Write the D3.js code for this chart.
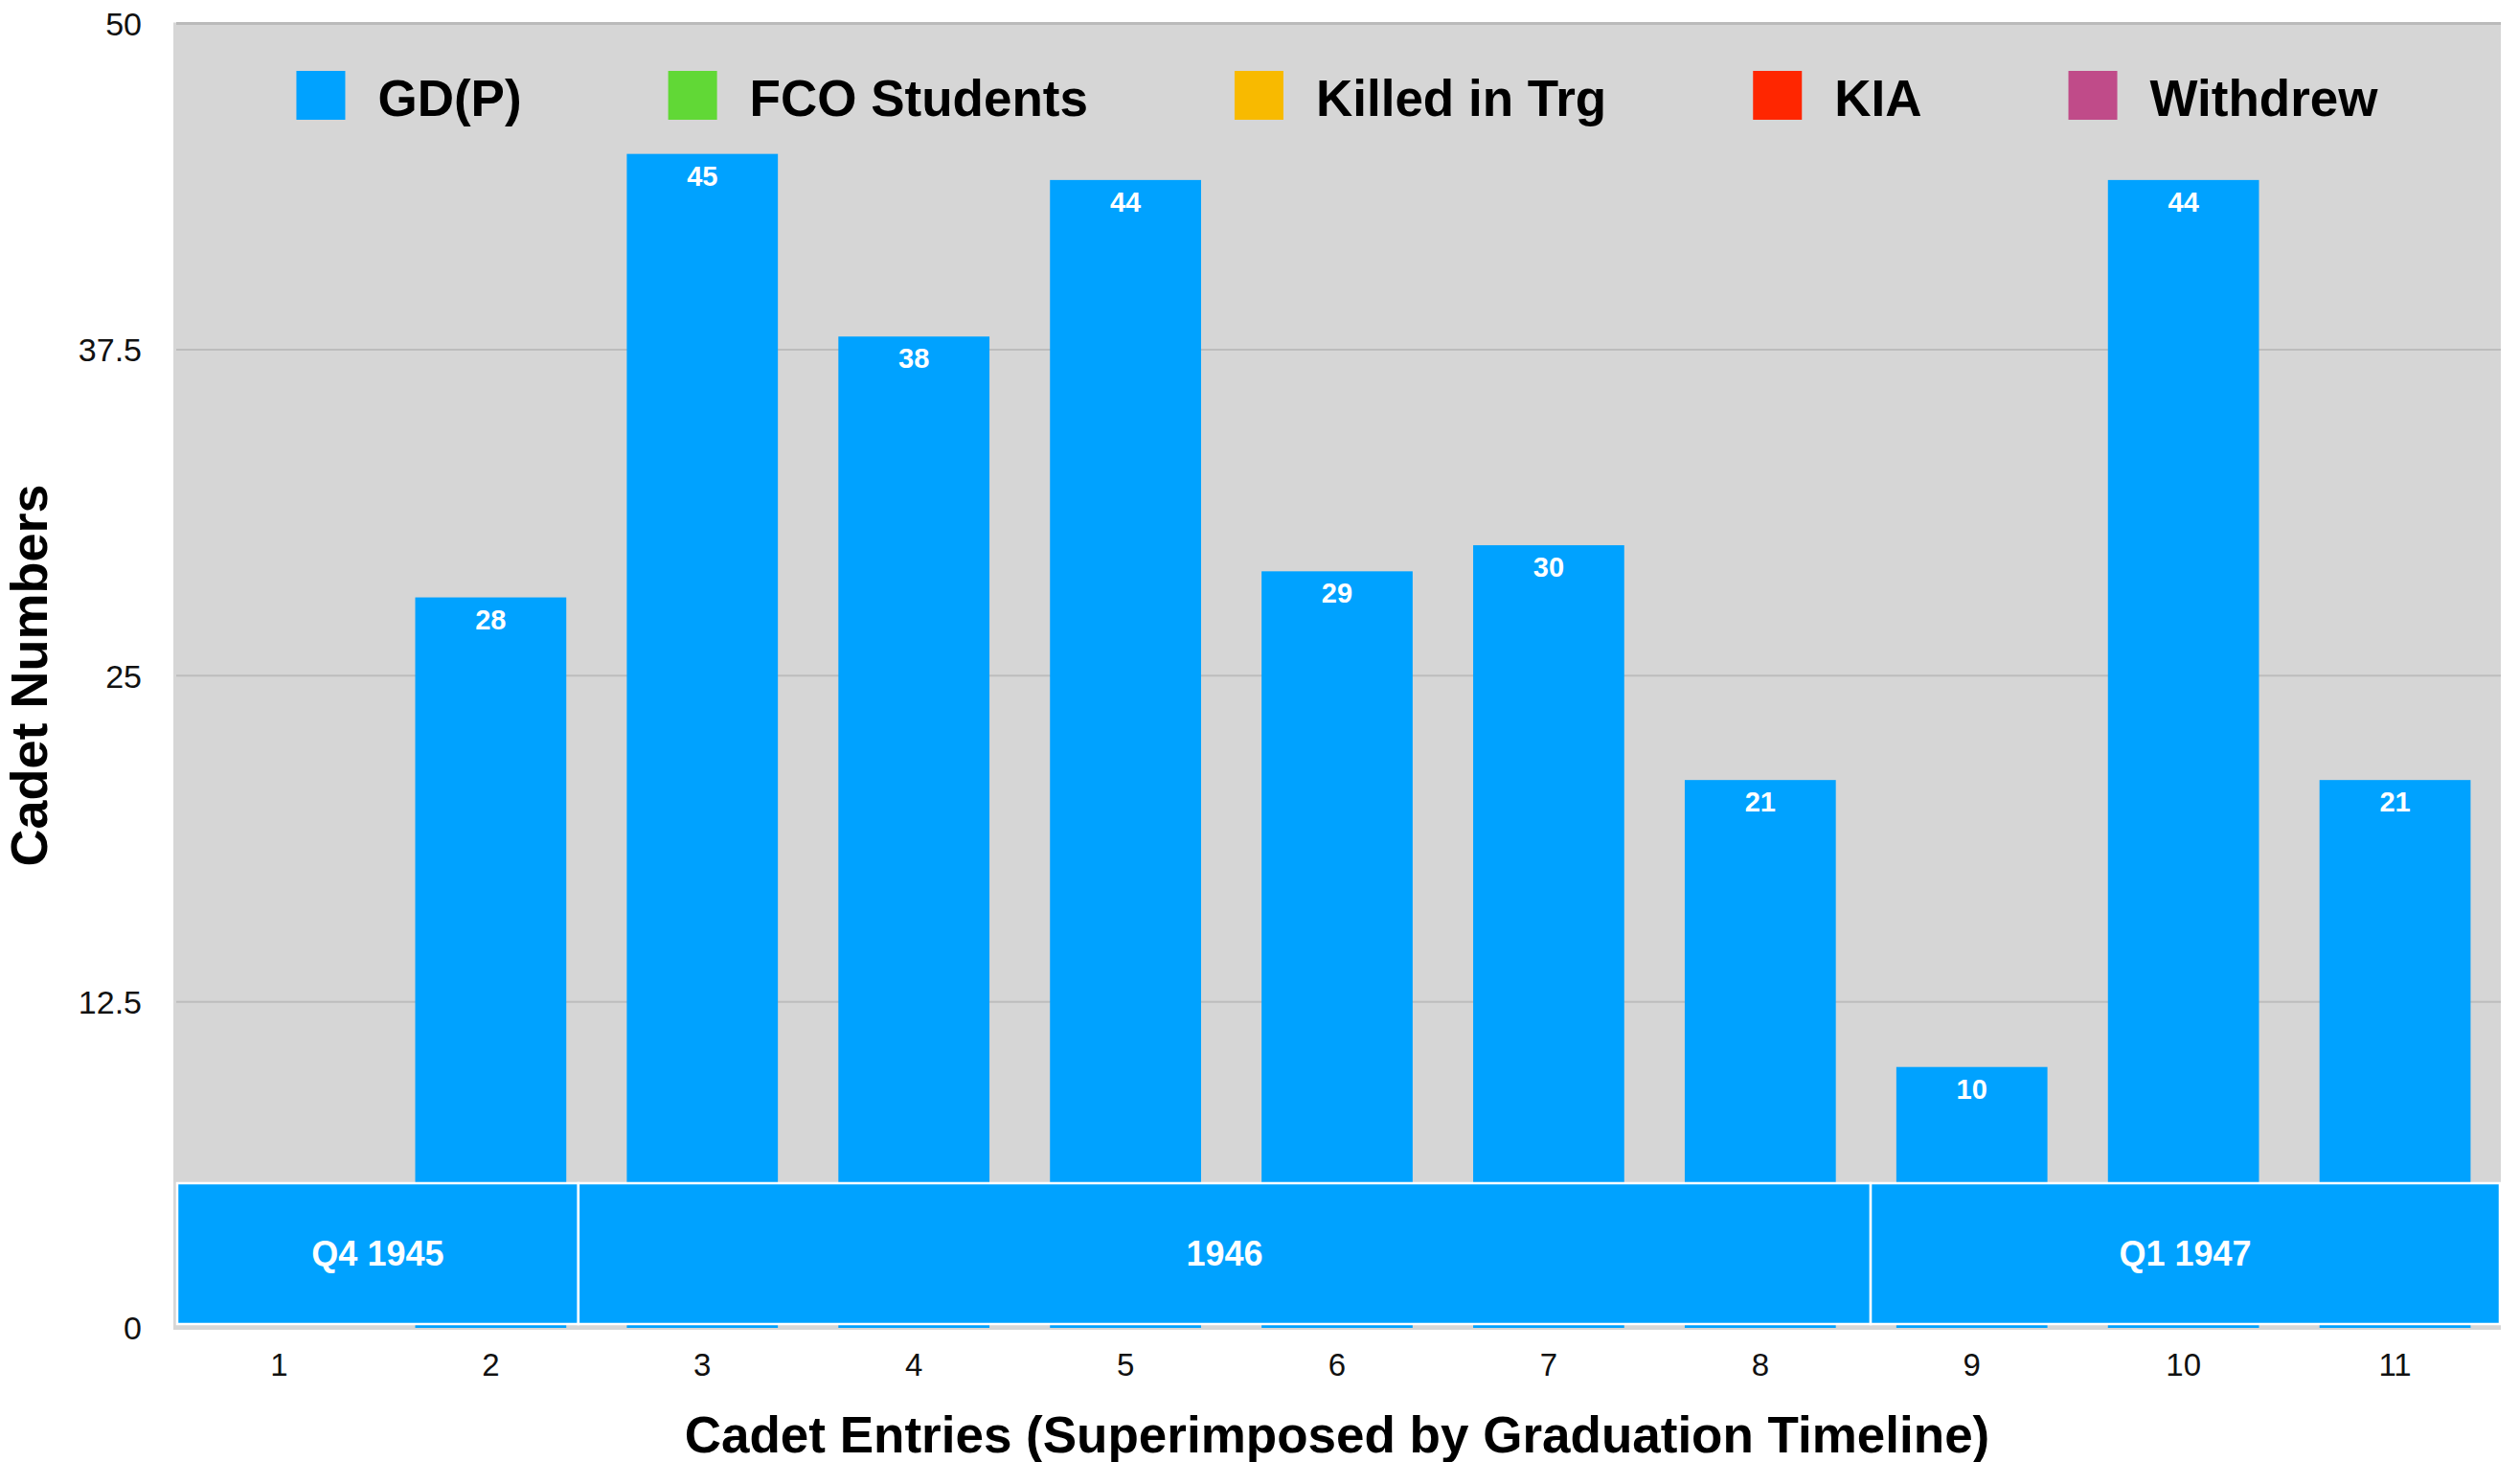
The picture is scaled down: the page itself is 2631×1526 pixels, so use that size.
<!DOCTYPE html>
<html><head><meta charset="utf-8">
<script src="https://cdn.jsdelivr.net/npm/d3@7"></script>
<style>html,body{margin:0;padding:0;background:#fff;}svg{display:block;font-family:"Liberation Sans",Arial,Helvetica,sans-serif;}</style>
</head><body>
<svg id="c" width="2631" height="1526"></svg>
<script>
// ---- data ----
const categories = ["1","2","3","4","5","6","7","8","9","10","11"];
const gdpValues      = [0, 28, 45, 38, 44, 29, 30, 21, 10, 44, 21];
const fcoValues      = [0, 0, 0, 0, 0, 0, 0, 0, 0, 0, 0];
const killedValues   = [0, 0, 0, 0, 0, 0, 0, 0, 0, 0, 0];
const kiaValues      = [0, 0, 0, 0, 0, 0, 0, 0, 0, 0, 0];
const withdrewValues = [0, 0, 0, 0, 0, 0, 0, 0, 0, 0, 0];
const seriesNames = ["GD(P)", "FCO Students", "Killed in Trg", "KIA", "Withdrew"];
const yTicks = [0, 12.5, 25, 37.5, 50];
const timelineLabels = ["Q4 1945", "1946", "Q1 1947"];
const timelineStarts = [0, 1.9, 8.02];   // in category units
const timelineEnds   = [1.9, 8.02, 11];

// ---- style ----
const colors = ["#00A2FF", "#61D836", "#F8BA00", "#FF2600", "#C04B89"];
const W = 2631, H = 1526;
const m = {left: 181, right: 20, top: 24.5, bottom: 140};
const plotBottom = 1386;

const svg = d3.select("#c");
const x = d3.scaleBand().domain(categories).range([m.left, W - m.right]).paddingInner(0.286).paddingOuter(0.143);
const y = d3.scaleLinear().domain([0, 50]).range([plotBottom, m.top]);
const tx = d3.scaleLinear().domain([0, 11]).range([m.left + 4, W - m.right - 1]);

// background
svg.append("rect").attr("x", m.left).attr("y", m.top - 1).attr("width", W - m.right - m.left)
  .attr("height", plotBottom + 2 - (m.top - 1)).attr("fill", "#D6D6D6");

// gridlines
svg.append("g").selectAll("line").data(yTicks).join("line")
  .attr("x1", m.left + 3).attr("x2", W - m.right)
  .attr("y1", d => y(d)).attr("y2", d => y(d))
  .attr("stroke", d => d === 50 ? "#BABABA" : "#BDBDBD")
  .attr("stroke-width", d => d === 50 ? 3 : 2)
  .attr("opacity", d => d === 0 ? 0 : 1);

// stacked bars
const table = categories.map((c, i) => ({cat: c, s0: gdpValues[i], s1: fcoValues[i], s2: killedValues[i], s3: kiaValues[i], s4: withdrewValues[i]}));
const stack = d3.stack().keys(["s0","s1","s2","s3","s4"])(table);
svg.append("g").selectAll("g").data(stack).join("g").attr("fill", (d, i) => colors[i])
  .selectAll("rect").data(d => d).join("rect")
  .attr("x", d => x(d.data.cat)).attr("width", x.bandwidth())
  .attr("y", d => y(d[1])).attr("height", d => y(d[0]) - y(d[1]));

// value labels
svg.append("g").selectAll("text").data(table.filter(d => d.s0 > 0)).join("text")
  .attr("x", d => x(d.cat) + x.bandwidth() / 2).attr("y", d => y(d.s0) + 33)
  .attr("text-anchor", "middle").attr("fill", "#fff").attr("font-weight", "bold").attr("font-size", 29)
  .text(d => d.s0);

// timeline overlay
const bandTop = plotBottom - 151, bandBot = plotBottom - 4;
const tl = svg.append("g");
tl.selectAll("rect").data(timelineLabels).join("rect")
  .attr("x", (d, i) => tx(timelineStarts[i])).attr("width", (d, i) => tx(timelineEnds[i]) - tx(timelineStarts[i]))
  .attr("y", bandTop).attr("height", bandBot - bandTop)
  .attr("fill", "#00A2FF").attr("stroke", "#fff").attr("stroke-width", 2.5);
tl.selectAll("text").data(timelineLabels).join("text")
  .attr("x", (d, i) => (tx(timelineStarts[i]) + tx(timelineEnds[i])) / 2)
  .attr("y", (bandTop + bandBot) / 2).attr("dy", "0.36em")
  .attr("text-anchor", "middle").attr("fill", "#fff").attr("font-weight", "bold").attr("font-size", 36)
  .text(d => d);

// y axis
const yAxis = d3.axisLeft(y).tickValues(yTicks).tickSize(0).tickPadding(0).tickFormat(d => d);
const ya = svg.append("g").attr("transform", `translate(${m.left - 33},0)`).call(yAxis);
ya.select(".domain").remove();
ya.selectAll("text").attr("font-size", 34).attr("fill", "#111").attr("font-family", "Liberation Sans, Arial, sans-serif").attr("dy", "0.35em");

// x axis
const xAxis = d3.axisBottom(x).tickSize(0).tickPadding(0);
const xa = svg.append("g").attr("transform", `translate(0,${plotBottom + 38})`).call(xAxis);
xa.select(".domain").remove();
xa.selectAll("text").attr("font-size", 33).attr("fill", "#111").attr("font-family", "Liberation Sans, Arial, sans-serif").attr("dy", "0.35em");

// axis titles
svg.append("text").attr("x", (m.left + W - m.right) / 2).attr("y", 1497).attr("dy", "0.36em")
  .attr("text-anchor", "middle").attr("font-weight", "bold").attr("font-size", 53).attr("fill", "#000")
  .text("Cadet Entries (Superimposed by Graduation Timeline)");
svg.append("text").attr("transform", "translate(30,705) rotate(-90)").attr("dy", "0.36em")
  .attr("text-anchor", "middle").attr("font-weight", "bold").attr("font-size", 54).attr("fill", "#000")
  .text("Cadet Numbers");

// legend
const lg = svg.append("g");
const sw = 51, gapText = 34, gapItem = 153;
const items = seriesNames.map((n, i) => {
  const g = lg.append("g");
  g.append("rect").attr("width", sw).attr("height", sw).attr("y", 74).attr("fill", colors[i]);
  const t = g.append("text").attr("x", sw + gapText).attr("y", 121).attr("font-weight", "bold").attr("font-size", 53).attr("fill", "#000").text(n);
  return {g, w: sw + gapText + t.node().getComputedTextLength()};
});
const total = d3.sum(items, d => d.w) + gapItem * (items.length - 1);
let cx = (m.left + W - m.right) / 2 - total / 2;
items.forEach(it => { it.g.attr("transform", `translate(${cx},0)`); cx += it.w + gapItem; });
</script>
</body></html>
